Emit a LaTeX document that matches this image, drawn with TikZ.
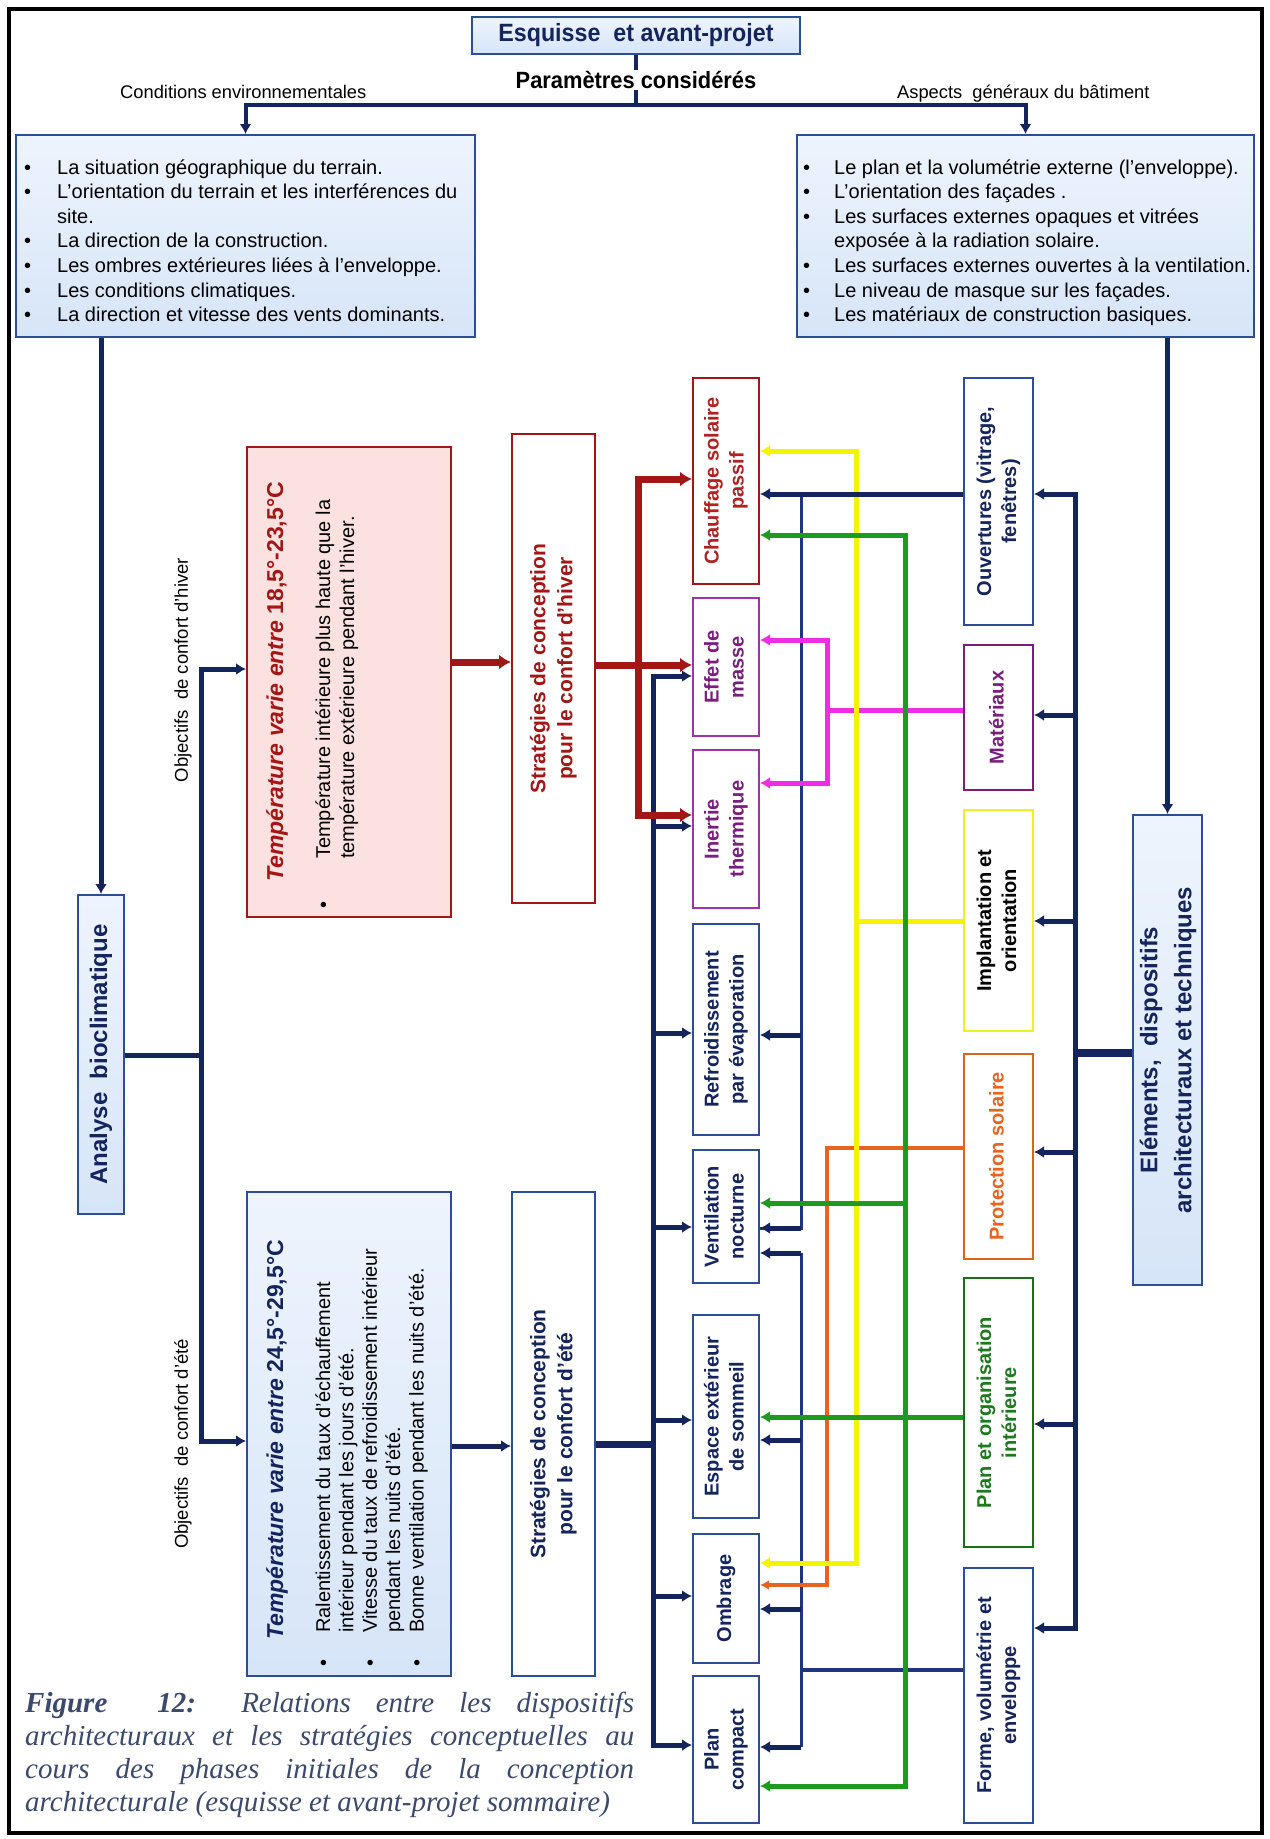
\documentclass[tikz,border=0pt]{standalone}
\usepackage{fontspec}
\usepackage{graphicx}
\setmainfont{Liberation Sans}
\newfontfamily\narrowsf[FakeStretch=0.93]{Liberation Sans}
\newfontfamily\capserif{Liberation Serif}
\usetikzlibrary{arrows.meta,fit}

\definecolor{navy}{HTML}{14245C}
\definecolor{thinnavy}{HTML}{1E3580}
\definecolor{boxblue}{HTML}{2B4E97}
\definecolor{toplight}{HTML}{EEF4FD}
\definecolor{lightfill}{HTML}{D6E5F8}
\definecolor{darkred}{HTML}{A31616}
\definecolor{chaufred}{HTML}{B02222}
\definecolor{pinkfill}{HTML}{FCE1E1}
\definecolor{purpbox}{HTML}{A032AE}
\definecolor{purptext}{HTML}{7A1E7E}
\definecolor{mag}{HTML}{F02DE6}
\definecolor{yel}{HTML}{F4F400}
\definecolor{yelbox}{HTML}{F0F020}
\definecolor{grn}{HTML}{1E9A1E}
\definecolor{dgrn}{HTML}{1C6E1C}
\definecolor{grntext}{HTML}{1C7A1C}
\definecolor{orng}{HTML}{E8641E}
\definecolor{orngbox}{HTML}{D9661E}
\definecolor{captext}{HTML}{3B4A6C}

\newcommand{\fsz}[2]{\fontsize{#1pt}{#2pt}\selectfont}
\newcommand{\rlines}[1]{\rotatebox{90}{\begin{tabular}{@{}c@{}}#1\end{tabular}}}

\begin{document}
\begin{tikzpicture}[x=1pt,y=-1pt,line join=miter,
  nav/.style={draw=navy,line width=5pt},
  thinnav/.style={draw=thinnavy,line width=3pt},
  redln/.style={draw=darkred,line width=7pt},
  yelln/.style={draw=yel,line width=5pt},
  grnln/.style={draw=grn,line width=5pt},
  magln/.style={draw=mag,line width=5pt},
  orngln/.style={draw=orng,line width=3.5pt},
  tip/.style={-{Latex[length=10pt,width=12pt]}},
  bothtips/.style={{Latex[length=10pt,width=12pt]}-{Latex[length=10pt,width=12pt]}},
  redtip/.style={-{Latex[length=12pt,width=15pt]}},
  redboth/.style={{Latex[length=12pt,width=15pt]}-{Latex[length=12pt,width=15pt]}},
  lbox/.style={draw=boxblue,line width=2pt,top color=toplight,bottom color=lightfill,inner sep=0pt},
  sbox/.style={draw=#1,line width=2pt,fill=white,inner sep=0pt},
  midtxt/.style={inner sep=0pt,font=\bfseries\fsz{20}{25}},
  listtxt/.style={anchor=base west,inner sep=0pt,font=\fsz{20}{24.6}},
]
\fill[white] (0,0) rectangle (1269,1839);
\useasboundingbox (0,0) rectangle (1269,1839);
\draw[line width=4pt] (9,9) rectangle (1262,1833);

% ---------- header ----------
\node[lbox,fit={(472,17) (800,54)}] (esq) {};
\node[inner sep=0pt,text=navy,font=\narrowsf\bfseries\fsz{25}{30}] (esqt) at (esq.center) {Esquisse\ \ et avant-projet};
\node[font=\fsz{18.3}{20},anchor=base west,inner sep=0pt] (lblenv) at (120,98) {Conditions environnementales};
\node[font=\fsz{18.3}{20},anchor=base west,inner sep=0pt] (lblasp) at (897,98) {Aspects\ \ généraux du bâtiment};

\node[lbox,fit={(16,135) (475,337)}] (env) {};
\node[listtxt] (envt) at (24,174) {\begin{tabular}[t]{@{}l@{\hspace{26pt}}l@{}}
\textbullet & La situation géographique du terrain.\\
\textbullet & L'orientation du terrain et les interférences du\\
 & site.\\
\textbullet & La direction de la construction.\\
\textbullet & Les ombres extérieures liées à l'enveloppe.\\
\textbullet & Les conditions climatiques.\\
\textbullet & La direction et vitesse des vents dominants.
\end{tabular}};

\node[lbox,fit={(797,135) (1254,337)}] (asp) {};
\node[listtxt] (aspt) at (803,174) {\begin{tabular}[t]{@{}l@{\hspace{24pt}}l@{}}
\textbullet & Le plan et la volumétrie externe (l'enveloppe).\\
\textbullet & L'orientation des façades .\\
\textbullet & Les surfaces externes opaques et vitrées\\
 & exposée à la radiation solaire.\\
\textbullet & Les surfaces externes ouvertes à la ventilation.\\
\textbullet & Le niveau de masque sur les façades.\\
\textbullet & Les matériaux de construction basiques.
\end{tabular}};

% ---------- analysis and objectives ----------
\node[lbox,fit={(78,895) (124,1214)}] (anal) {};
\node[inner sep=0pt,text=navy,font=\bfseries\fsz{24}{28}] (analt) at (anal.center) {\rotatebox{90}{Analyse\ \ bioclimatique}};
\node[rotate=90,font=\fsz{18.5}{20}] (lblhiv) at (183,670) {Objectifs\ \ de confort d'hiver};
\node[rotate=90,font=\fsz{18.5}{20}] (lblete) at (183,1444) {Objectifs\ \ de confort d'été};

% winter comfort
\node[draw=darkred,line width=2pt,fill=pinkfill,inner sep=0pt,fit={(247,447) (451,917)}] (wtemp) {};
\node[rotate=90,anchor=base west,inner sep=0pt,text=darkred,font=\bfseries\fsz{23}{26}] (wtitle) at (283,882) {\textit{Température varie entre} 18,5°-23,5°C};
\node[rotate=90,anchor=base west,inner sep=0pt,font=\fsz{20}{24}] (wbody) at (330,909) {\begin{tabular}[t]{@{}l@{\hspace{43pt}}l@{}}
\textbullet & Température intérieure plus haute que la\\
 & température extérieure pendant l'hiver.
\end{tabular}};
\node[sbox=darkred,fit={(512,434) (595,903)}] (wstrat) {};
\node[inner sep=0pt,text=darkred,font=\bfseries\fsz{21}{27}] (wstratt) at (wstrat.center) {\rlines{Stratégies de conception\\pour le confort d'hiver}};

% summer comfort
\node[lbox,fit={(247,1192) (451,1676)}] (stemp) {};
\node[rotate=90,anchor=base west,inner sep=0pt,text=navy,font=\bfseries\fsz{23}{26}] (stitle) at (283,1640) {\textit{Température varie entre} 24,5°-29,5°C};
\node[rotate=90,anchor=base west,inner sep=0pt,font=\fsz{20}{23.4}] (sbody) at (330,1667) {\begin{tabular}[t]{@{}l@{\hspace{27pt}}l@{}}
\textbullet & Ralentissement du taux d'échauffement\\
 & intérieur pendant les jours d'été.\\
\textbullet & Vitesse du taux de refroidissement intérieur\\
 & pendant les nuits d'été.\\
\textbullet & Bonne ventilation pendant les nuits d'été.
\end{tabular}};
\node[sbox=boxblue,fit={(512,1192) (595,1676)}] (sstrat) {};
\node[inner sep=0pt,text=navy,font=\bfseries\fsz{21}{27}] (sstratt) at (sstrat.center) {\rlines{Stratégies de conception\\pour le confort d'été}};

% ---------- design strategies ----------
\node[sbox=darkred,fit={(693,378) (759,584)}] (chauf) {};
\node[midtxt,text=chaufred] (chauft) at (chauf.center) {\rlines{Chauffage solaire\\passif}};
\node[sbox=purpbox,fit={(693,598) (759,736)}] (effet) {};
\node[midtxt,text=purptext] (effett) at (effet.center) {\rlines{Effet de\\masse}};
\node[sbox=purpbox,fit={(693,750) (759,908)}] (inert) {};
\node[midtxt,text=purptext] (inertt) at (inert.center) {\rlines{Inertie\\thermique}};
\node[sbox=boxblue,fit={(693,924) (759,1135)}] (refr) {};
\node[midtxt,text=navy] (refrt) at (refr.center) {\rlines{Refroidissement\\par évaporation}};
\node[sbox=boxblue,fit={(693,1150) (759,1283)}] (vent) {};
\node[midtxt,text=navy] (ventt) at (vent.center) {\rlines{Ventilation\\nocturne}};
\node[sbox=boxblue,fit={(693,1315) (759,1518)}] (esp) {};
\node[midtxt,text=navy] (espt) at (esp.center) {\rlines{Espace extérieur\\de sommeil}};
\node[sbox=boxblue,fit={(693,1534) (759,1663)}] (omb) {};
\node[midtxt,text=navy] (ombt) at (omb.center) {\rlines{Ombrage}};
\node[sbox=boxblue,fit={(693,1676) (759,1823)}] (pcomp) {};
\node[midtxt,text=navy] (pcompt) at (pcomp.center) {\rlines{Plan\\compact}};

% ---------- architectural devices ----------
\node[sbox=boxblue,fit={(964,378) (1033,625)}] (ouv) {};
\node[midtxt,text=navy] (ouvt) at (ouv.center) {\rlines{Ouvertures (vitrage,\\fenêtres)}};
\node[sbox=purptext,fit={(964,645) (1033,790)}] (mat) {};
\node[midtxt,text=purptext] (matt) at (mat.center) {\rlines{Matériaux}};
\node[sbox=yelbox,fit={(964,810) (1033,1031)}] (impl) {};
\node[midtxt,text=black] (implt) at (impl.center) {\rlines{Implantation et\\orientation}};
\node[sbox=orngbox,fit={(964,1054) (1033,1259)}] (prot) {};
\node[midtxt,text=orng] (prott) at (prot.center) {\rlines{Protection solaire}};
\node[sbox=dgrn,fit={(964,1278) (1033,1547)}] (porg) {};
\node[midtxt,text=grntext] (porgt) at (porg.center) {\rlines{Plan et organisation\\intérieure}};
\node[sbox=boxblue,fit={(964,1568) (1033,1823)}] (forme) {};
\node[midtxt,text=navy] (formet) at (forme.center) {\rlines{Forme, volumétrie et\\enveloppe}};

\node[lbox,fit={(1133,815) (1202,1285)}] (elem) {};
\node[inner sep=0pt,text=navy,font=\bfseries\fsz{24}{34}] (elemt) at (elem.center) {\rlines{Eléments,\ \ dispositifs\\architecturaux et techniques}};

% ---------- connectors ----------
\coordinate (hub) at (636,105);
\draw[nav,line width=4pt] (esq.south) -- (hub);
\draw[nav,line width=4pt,tip] (hub) -| (env.north);
\draw[nav,line width=4pt,tip] (hub) -| (asp.north);
\draw[nav,tip] (env.south -| anal.north) -- (anal.north);
\draw[nav,tip] (asp.south -| elem.north) -- (elem.north);

% analysis towards the two comfort objectives
\coordinate (abus) at (201,1055);
\draw[nav] (anal.east |- abus) -- (abus);
\draw[nav,bothtips] (wtemp.west |- 0,669) -| (abus) |- (stemp.west |- 0,1441);

% collectors fed by the openings and by the building form
\coordinate (tA) at (801,494);
\draw[thinnav] (tA) |- (vent.east |- 0,1228);
\foreach \y/\n in {1035/refr,1228/vent} \draw[nav,tip] (tA |- 0,\y) -- (\n.east |- 0,\y);
\coordinate (tB) at (801,1670);
\draw[thinnav,line width=4pt] (forme.west |- tB) -- (tB);
\draw[thinnav] (tB |- 0,1253) -- (tB |- 0,1747);
\foreach \y/\n in {1253/vent,1440/esp,1609/omb,1747/pcomp} \draw[nav,tip] (tB |- 0,\y) -- (\n.east |- 0,\y);

% summer chain and strategy bus
\draw[nav,tip] (stemp.east |- 0,1446) -- (sstrat.west |- 0,1446);
\coordinate (lbus) at (653,1444);
\draw[nav,line width=7pt] (sstrat.east |- lbus) -- (lbus);
\draw[nav,bothtips] (effet.west |- 0,676) -| (lbus) |- (pcomp.west |- 0,1745);
\foreach \y/\n in {826/inert,1033/refr,1227/vent,1420/esp,1596/omb} \draw[nav,tip] (lbus |- 0,\y) -- (\n.west |- 0,\y);

% devices bus
\coordinate (ebus) at (1075,1053);
\draw[nav,line width=8pt] (elem.west |- ebus) -- (ebus);
\draw[nav,bothtips] (ouv.east |- 0,494) -| (ebus) |- (forme.east |- 0,1628);
\foreach \y/\n in {715/mat,921/impl,1152/prot,1424/porg} \draw[nav,tip] (ebus |- 0,\y) -- (\n.east |- 0,\y);

% solar protection
\coordinate (obus) at (827,1148);
\draw[orngln,-{Latex[length=9pt,width=10pt]}] (prot.west |- obus) -- (obus) |- (omb.east |- 0,1585);

% materials
\coordinate (mbus) at (827,710);
\draw[magln] (mat.west |- mbus) -- (mbus);
\draw[magln,bothtips] (effet.east |- 0,640) -| (mbus) |- (inert.east |- 0,783);

% siting and orientation
\coordinate (ybus) at (856,921);
\draw[yelln] (impl.west |- ybus) -- (ybus);
\draw[yelln,bothtips] (chauf.east |- 0,451) -| (ybus) |- (omb.east |- 0,1563);

% openings
\draw[nav,tip] (ouv.west |- tA) -- (chauf.east |- tA);

% interior plan
\coordinate (gbus) at (905,1203);
\draw[grnln,bothtips] (chauf.east |- 0,535) -| (gbus) |- (pcomp.east |- 0,1786);
\draw[grnln,tip] (gbus) -- (vent.east |- gbus);
\draw[grnln,tip] (porg.west |- 0,1417) -- (esp.east |- 0,1417);

% winter chain
\draw[redln,redtip] (wtemp.east |- 0,662) -- (wstrat.west |- 0,662);
\draw[redln,redtip] (wstrat.east |- 0,665) -- (effet.west |- 0,665);
\coordinate (rbus) at (638,600);
\draw[redln,redboth] (chauf.west |- 0,479) -| (rbus) |- (inert.west |- 0,815);

% label over the header stem
\node[fill=white,inner sep=1pt,font=\narrowsf\bfseries\fsz{23.5}{28}] (param) at (636,80) {Paramètres considérés};

% caption
\node[anchor=base west,inner sep=0pt,text=captext,font=\capserif\itshape\fsz{29}{33.3}] (cap) at (25,1712) {\parbox[t]{609pt}{\textbf{Figure\ \ 12:} Relations entre les dispositifs\linebreak architecturaux et les stratégies conceptuelles au\linebreak cours des phases initiales de la conception\linebreak architecturale (esquisse et avant-projet sommaire)}};
\end{tikzpicture}
\end{document}
